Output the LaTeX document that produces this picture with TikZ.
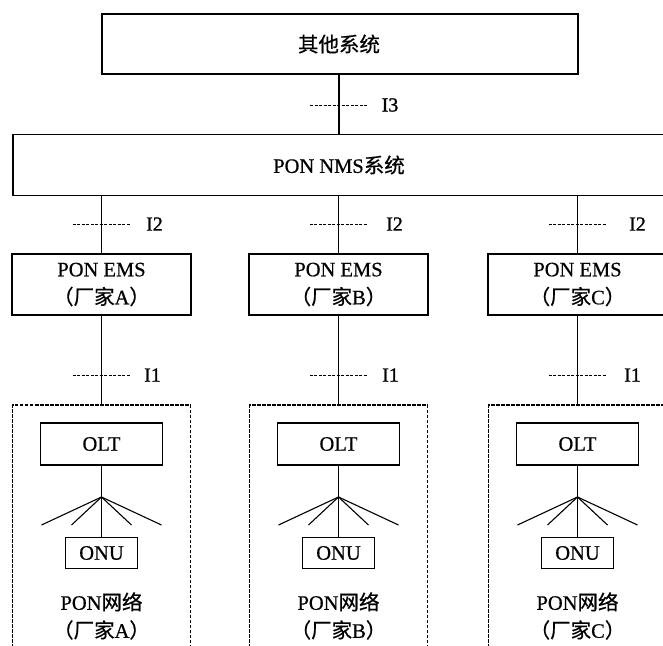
\documentclass[tikz,border=0pt]{standalone}
\usepackage{fontspec}
\setmainfont{Liberation Serif}[FakeBold=0.6]
\newfontfamily\cjk{Noto Sans CJK SC}[FakeBold=0.6]
\newfontfamily\ifont{Liberation Serif}[FakeBold=1.2]
\begin{document}
\begin{tikzpicture}[x=1pt,y=-1pt,
  box/.style={draw, line width=1.2pt, inner sep=0pt},
  txt/.style={font=\fontsize{20.5}{28}\selectfont, align=center, inner sep=0pt},
  link/.style={line width=1.1pt},
  iface/.style={line width=1pt, dash pattern=on 3pt off 1.5pt},
  netbox/.style={draw, line width=1.2pt, dash pattern=on 3.5pt off 1.5pt},
  ilabel/.style={font=\ifont\fontsize{20}{20}\selectfont, inner sep=0pt}]
\useasboundingbox (0,0) rectangle (663,645);
\clip (0,0) rectangle (663,645);

% top levels
\node[box, minimum width=476pt, minimum height=60pt] (other) at (340,44) {};
\node[txt] (otherlabel) at (339,44) {\cjk 其他系统};
\node[box, minimum width=652pt, minimum height=61pt] (nms) at (339,165) {};
\node[txt] (nmslabel) at (339,165) {PON NMS{\cjk 系统}};
\draw[link] (other.south -| nmslabel) -- (nms.north -| nmslabel);
\coordinate (i3) at (339,105);
\draw[iface] ([xshift=-29pt]i3) -- ([xshift=29pt]i3);
\node[ilabel] (l3) at ([xshift=51pt]i3) {I3};

\foreach \c/\x/\oi/\oii in {A/101.5/53/51, B/338.5/56/52, C/577.5/60/55}{
  % EMS
  \node[box, minimum width=179pt, minimum height=61pt] (ems\c) at (\x,284.5) {};
  \node[txt] (emslabel\c) at (\x,284.5) {PON EMS\\{\cjk （厂家}\c{\cjk ）}};
  \draw[link] (ems\c.north) -- (ems\c.north |- nms.south);
  \coordinate (i2\c) at (\x,224);
  \draw[iface] ([xshift=-29pt]i2\c) -- ([xshift=29pt]i2\c);
  \node[ilabel] (l2\c) at ([xshift=\oi pt]i2\c) {I2};
  % PON network
  \node[netbox, minimum width=178pt, minimum height=255pt] (net\c) at (\x,532.5) {};
  \draw[link] (ems\c.south) -- (ems\c.south |- net\c.north);
  \coordinate (i1\c) at (\x,375);
  \draw[iface] ([xshift=-29pt]i1\c) -- ([xshift=29pt]i1\c);
  \node[ilabel] (l1\c) at ([xshift=\oii pt]i1\c) {I1};
  \node[box, minimum width=122pt, minimum height=42pt] (olt\c) at (\x,444) {};
  \node[txt] (oltlabel\c) at (\x,444) {OLT};
  \coordinate (fan\c) at (\x,497);
  \draw[link] (olt\c.south) -- (fan\c);
  \foreach \dx in {-60,-30,30,60}{
    \draw[link] (fan\c) -- ++(\dx,28);
  }
  \node[box, minimum width=72pt, minimum height=31pt] (onu\c) at (\x,553) {};
  \node[txt] (onulabel\c) at (\x,553) {ONU};
  \draw[link] (fan\c) -- (onu\c.north);
  \node[txt] (netlabel\c) at (\x,616) {PON{\cjk 网络}\\{\cjk （厂家}\c{\cjk ）}};
}
\end{tikzpicture}
\end{document}
